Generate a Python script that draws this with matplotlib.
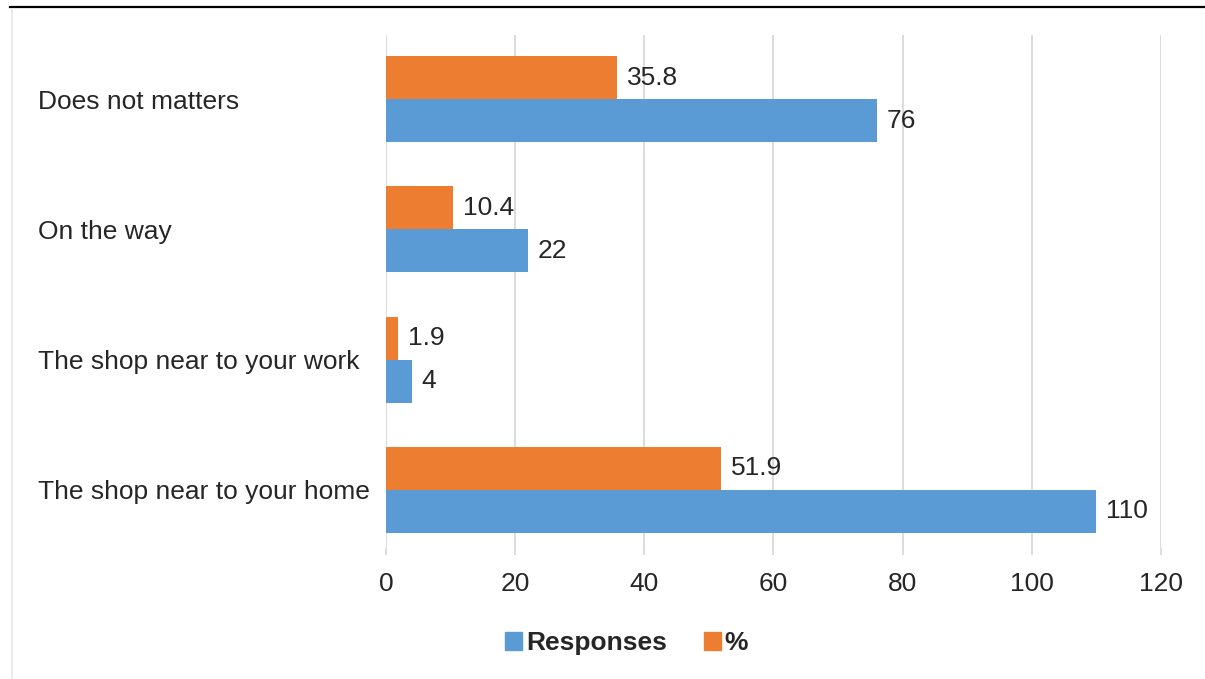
import matplotlib
matplotlib.use("Agg")
import matplotlib.pyplot as plt
from matplotlib.lines import Line2D
from matplotlib.patches import Patch
import numpy as np

# Daten
categories = ["The shop near to your home", "The shop near to your work",
              "On the way", "Does not matters"]
responses = [110, 4, 22, 76]
percent = [51.9, 1.9, 10.4, 35.8]
x_ticks = [0, 20, 40, 60, 80, 100, 120]

blue = "#5B9BD5"
orange = "#ED7D31"
grid = "#D9D9D9"
txt = "#262626"
fs = 19

plt.rcParams['font.family'] = ['Liberation Sans', 'DejaVu Sans']

fig = plt.figure(figsize=(12.05, 6.79), dpi=100)
ax = fig.add_axes([0.3203, 0.193, 0.6432, 0.755])

y = np.arange(len(categories))
h = 0.33
bars_r = ax.barh(y - h / 2, responses, height=h, color=blue, zorder=3)
bars_p = ax.barh(y + h / 2, percent, height=h, color=orange, zorder=3)

for bar, v in zip(bars_r, responses):
    ax.text(bar.get_width() + 1.5, bar.get_y() + bar.get_height() / 2, f"{v:g}",
            va='center', ha='left', fontsize=fs, color=txt)
for bar, v in zip(bars_p, percent):
    ax.text(bar.get_width() + 1.5, bar.get_y() + bar.get_height() / 2, f"{v:g}",
            va='center', ha='left', fontsize=fs, color=txt)

ax.set_xlim(0, 120)
ax.set_ylim(-0.445, 3.49)
ax.set_xticks(x_ticks)
ax.set_yticks(y)
ax.set_yticklabels(categories, ha='left')
ax.tick_params(axis='y', length=0, pad=250.5, labelsize=fs, labelcolor=txt)
ax.tick_params(axis='x', length=5, width=1.3, color=grid, pad=12,
               labelsize=fs, labelcolor=txt)
ax.grid(axis='x', color=grid, linewidth=1.3, zorder=0)
for s in ax.spines.values():
    s.set_visible(False)

handles = [Patch(color=blue, label="Responses"), Patch(color=orange, label="%")]
fig.legend(handles=handles, loc='center', bbox_to_anchor=(0.52, 0.053), ncol=2,
           frameon=False, prop={'weight': 'bold', 'size': fs},
           handlelength=0.65, handleheight=0.65, handletextpad=0.15,
           columnspacing=1.4, labelcolor=txt)

# Rahmenlinien
fig.add_artist(Line2D([10 / 1205, 1.0], [1 - 7 / 679, 1 - 7 / 679],
                      color='black', linewidth=1.6, transform=fig.transFigure))
fig.add_artist(Line2D([12 / 1205, 12 / 1205], [0, 1 - 9 / 679],
                      color='#E6E6E6', linewidth=1.2, transform=fig.transFigure))

fig.savefig("out.png", dpi=100)
